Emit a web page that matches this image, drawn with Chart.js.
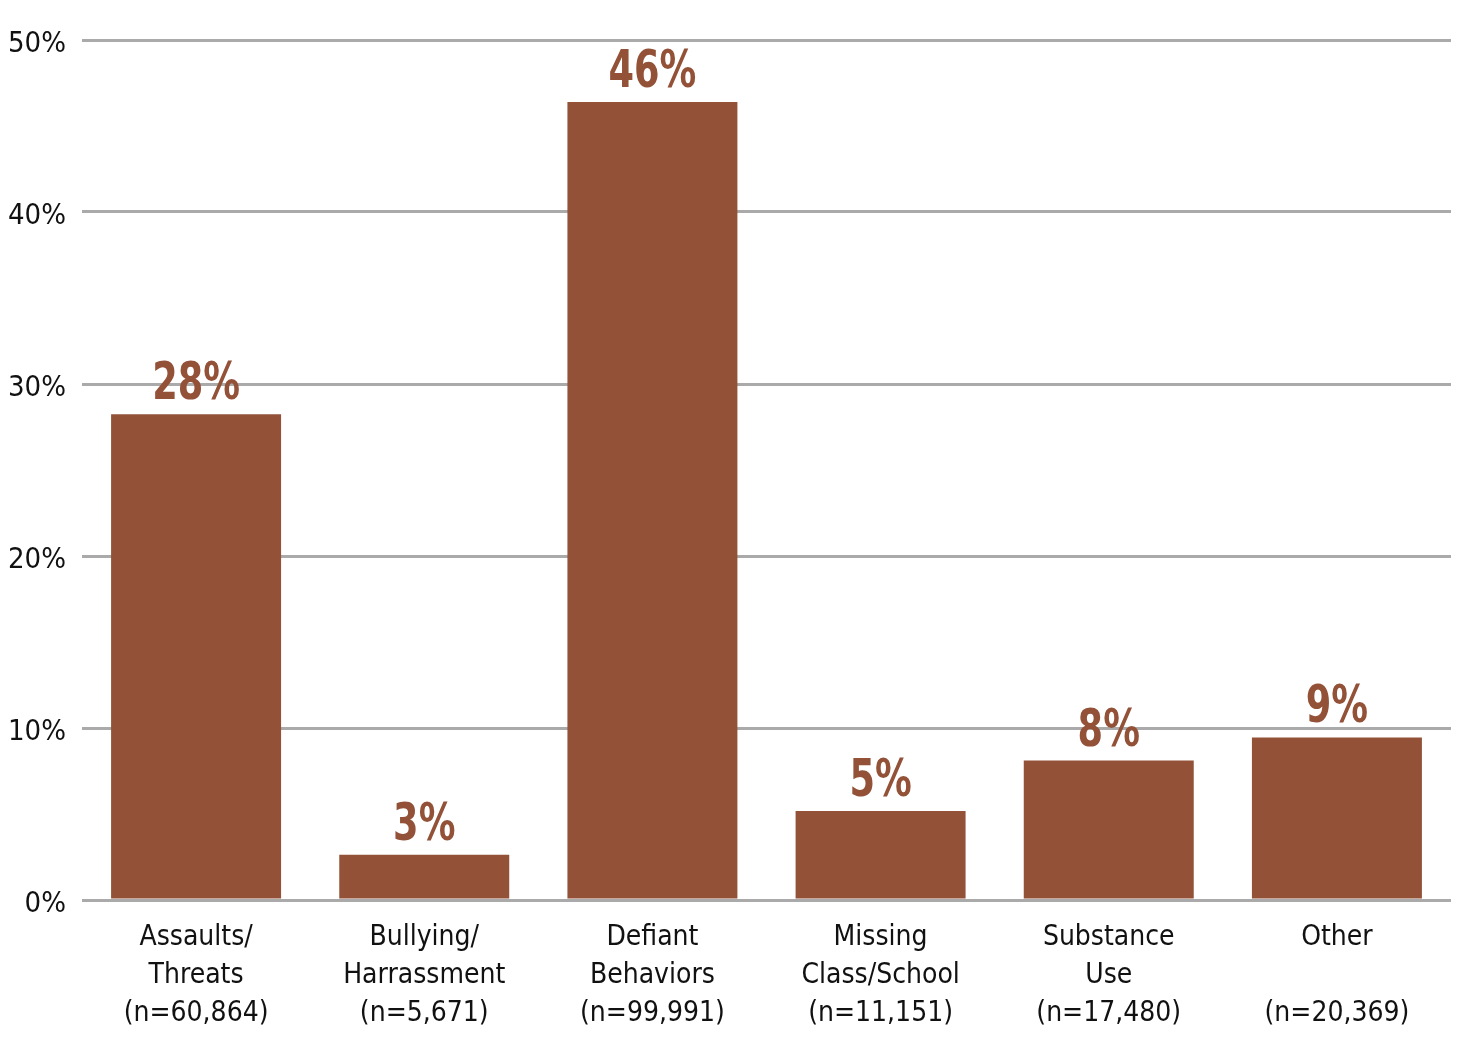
<!DOCTYPE html>
<html>
<head>
<meta charset="utf-8">
<script src="https://cdn.jsdelivr.net/npm/chart.js@4/dist/chart.umd.min.js"></script>
<style>
html,body{margin:0;padding:0;background:#fff;}
#wrap{width:1470px;height:1050px;}
</style>
</head>
<body>
<div id="wrap"><canvas id="c" width="1470" height="1050"></canvas></div>
<script>
const categories = [
  ["Assaults/", "Threats", "(n=60,864)"],
  ["Bullying/", "Harrassment", "(n=5,671)"],
  ["Defiant", "Behaviors", "(n=99,991)"],
  ["Missing", "Class/School", "(n=11,151)"],
  ["Substance", "Use", "(n=17,480)"],
  ["Other", "", "(n=20,369)"]
];
const percentValues = [28.24, 2.63, 46.39, 5.17, 8.11, 9.45];
const valueLabels = ["28%", "3%", "46%", "5%", "8%", "9%"];
const yTicks = [0, 10, 20, 30, 40, 50];

const FONT = '"Liberation Sans Narrow", "DejaVu Sans Condensed", "Roboto Condensed", "Liberation Sans", sans-serif';
const BROWN = '#935138';

const valueLabelPlugin = {
  id: 'valueLabels',
  afterDatasetsDraw(chart) {
    const ctx = chart.ctx;
    const meta = chart.getDatasetMeta(0);
    meta.data.forEach((bar, i) => {
      ctx.save();
      ctx.font = 'bold 51px ' + FONT;
      ctx.fillStyle = BROWN;
      ctx.textAlign = 'center';
      ctx.textBaseline = 'alphabetic';
      ctx.translate(bar.x, bar.y - 15);
      ctx.scale(0.8, 1);
      ctx.fillText(valueLabels[i], 0, 0);
      ctx.restore();
    });
  }
};

new Chart(document.getElementById('c'), {
  type: 'bar',
  data: {
    labels: categories,
    datasets: [{
      data: percentValues,
      backgroundColor: BROWN,
      borderWidth: 0,
      barPercentage: 0.745,
      categoryPercentage: 1.0
    }]
  },
  options: {
    responsive: false,
    animation: false,
    devicePixelRatio: 1,
    layout: { padding: { top: 40, right: 19, left: 0, bottom: 0 } },
    plugins: { legend: { display: false }, tooltip: { enabled: false } },
    scales: {
      x: {
        grid: { display: false, drawTicks: false },
        border: { display: false },
        ticks: {
          color: '#111',
          font: { family: FONT, size: 28, lineHeight: 1.36 },
          padding: 19,
          maxRotation: 0,
          autoSkip: false
        },
        afterFit(scale) { scale.height = 150; }
      },
      y: {
        min: 0,
        max: 50,
        afterBuildTicks(scale) { scale.ticks = yTicks.map(v => ({ value: v })); },
        grid: { color: '#aaaaaa', lineWidth: 3, drawTicks: false },
        border: { display: false },
        ticks: {
          color: '#111',
          font: { family: FONT, size: 29 },
          padding: 16,
          labelOffset: 4,
          callback: v => v + '%'
        },
        afterFit(scale) { scale.width = 82; }
      }
    }
  },
  plugins: [valueLabelPlugin]
});
</script>
</body>
</html>
